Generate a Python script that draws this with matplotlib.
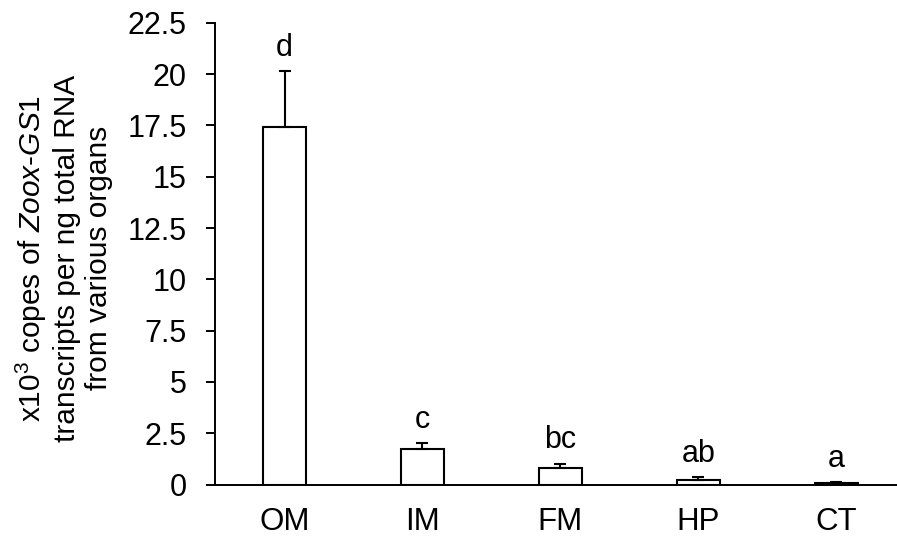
import numpy as np
import matplotlib
matplotlib.use("Agg")
import matplotlib.pyplot as plt

plt.rcParams['font.family'] = ['Liberation Sans', 'DejaVu Sans']
plt.rcParams['mathtext.fontset'] = 'custom'
plt.rcParams['mathtext.rm'] = 'Liberation Sans'
plt.rcParams['mathtext.it'] = 'Liberation Sans:italic'

organs = ['OM', 'IM', 'FM', 'HP', 'CT']
copies = [17.41, 1.71, 0.81, 0.24, 0.08]
sem = [2.73, 0.32, 0.20, 0.12, 0.03]
letters = ['d', 'c', 'bc', 'ab', 'a']
yticks = [0, 2.5, 5, 7.5, 10, 12.5, 15, 17.5, 20, 22.5]

fig = plt.figure(figsize=(8.97, 5.45), dpi=100)
ax = fig.add_axes([0.2397, 0.111, 0.7603, 0.847])

x = np.arange(len(organs))
ax.bar(x, copies, width=0.31, color='white', edgecolor='black', linewidth=1.5, zorder=2)
ax.errorbar(x, copies, yerr=[np.zeros(len(sem)), sem], fmt='none', ecolor='black',
            elinewidth=1.5, capsize=4, capthick=1.5, zorder=3)

for xi, v, e, lab in zip(x, copies, sem, letters):
    ax.annotate(lab, (xi, v + e), xytext=(0, 6), textcoords='offset points',
                ha='center', va='bottom', fontsize=22)

ax.set_xlim(-0.504, 4.44)
ax.set_ylim(0, 22.5)
ax.set_xticks(x)
ax.set_xticklabels(organs, fontsize=22.5)
ax.set_yticks(yticks)
ax.set_yticklabels([f'{t:g}' for t in yticks], fontsize=22)
ax.tick_params(axis='x', length=0, pad=16)
ax.tick_params(axis='y', length=6.5, width=1.4, pad=14)

for s in ['top', 'right']:
    ax.spines[s].set_visible(False)
for s in ['left', 'bottom']:
    ax.spines[s].set_linewidth(1.4)

ax.set_ylabel('x10$^3$ copes of $\\mathit{Zoox}$-$\\mathit{GS1}$\n'
              'transcripts per ng total RNA\nfrom various organs',
              fontsize=21.5, linespacing=1.2)
ax.yaxis.set_label_coords(-0.149, 0.49)

fig.savefig('out.png', dpi=100)
